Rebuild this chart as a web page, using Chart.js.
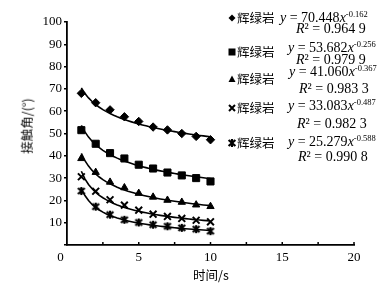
<!DOCTYPE html>
<html>
<head>
<meta charset="utf-8">
<script src="https://cdn.jsdelivr.net/npm/chart.js@4.4.1/dist/chart.umd.min.js"></script>
<style>
  body { margin: 0; background: #fff; }
  #wrap { position: relative; width: 390px; height: 287px; }
  .t { position: absolute; white-space: nowrap; color: #000; line-height: 1; }
  .cn { font-family: "Noto Sans CJK SC"; font-size: 12.5px; }
  .eq { font-family: "Liberation Serif"; font-size: 14px; }
  .eq i { font-style: italic; }
  .eq sup { font-size: 8.5px; vertical-align: 5px; line-height: 0; }
  .mk { position: absolute; }
</style>
</head>
<body>
<div id="wrap">
  <canvas id="myChart" width="390" height="287"></canvas>
  <div class="t cn" style="left:27px;top:126px;transform:translate(-50%,-50%) rotate(-90deg);">接触角/(°)</div>
  <div class="t cn" style="left:211px;top:275px;transform:translate(-50%,-50%);">时间/s</div>
  <div id="legend"></div>
</div>
<script>
// time (s)
var timeS = [1, 2, 3, 4, 5, 6, 7, 8, 9, 10];
// measured contact angles, five diabase samples
var diamondAngle = [68.0, 63.8, 60.6, 57.5, 55.4, 52.9, 51.6, 50.0, 48.7, 47.2];
var squareAngle = [51.5, 45.4, 41.2, 38.8, 36.0, 34.3, 32.5, 31.2, 30.0, 28.5];
var triangleAngle = [38.8, 32.6, 28.2, 25.7, 23.2, 21.5, 20.1, 19.2, 18.0, 17.3];
var crossAngle = [30.6, 24.1, 20.3, 17.9, 15.6, 13.8, 12.8, 11.9, 11.1, 10.4];
var starAngle = [24.2, 17.2, 13.6, 11.3, 10.1, 9.1, 8.4, 7.7, 7.1, 6.2];
// power fits y = a x^b shown on the chart
var fitA = [70.448, 53.682, 41.060, 33.083, 25.279];
var fitB = [-0.162, -0.256, -0.367, -0.487, -0.588];
var fitR2 = ['0.964 9', '0.979 9', '0.983 3', '0.982 3', '0.990 8'];
var seriesName = ['辉绿岩', '辉绿岩', '辉绿岩', '辉绿岩', '辉绿岩'];
var xTicks = [0, 5, 10, 15, 20];

// star marker (x with a vertical bar)
function starMarker(size) {
  var c = document.createElement('canvas');
  c.width = size; c.height = size;
  var g = c.getContext('2d');
  var m = size / 2, r = size / 2 - 1;
  g.strokeStyle = '#000';
  g.lineWidth = 2.2;
  g.beginPath();
  g.moveTo(m - r * 0.85, m - r * 0.75); g.lineTo(m + r * 0.85, m + r * 0.75);
  g.moveTo(m + r * 0.85, m - r * 0.75); g.lineTo(m - r * 0.85, m + r * 0.75);
  g.moveTo(m, m - r); g.lineTo(m, m + r);
  g.stroke();
  return c;
}

var allAngles = [diamondAngle, squareAngle, triangleAngle, crossAngle, starAngle];
var styles = ['rectRot', 'rect', 'triangle', 'crossRot', starMarker(10)];
var radii = [4.2, 5, 4.2, 4.8, 5];

function points(vals) {
  return timeS.map(function (t, i) { return { x: t, y: vals[i] }; });
}
function fitCurve(a, b) {
  var pts = [];
  for (var t = 1; t <= 10.001; t += 0.25) pts.push({ x: t, y: a * Math.pow(t, b) });
  return pts;
}

var datasets = [];
for (var k = 0; k < 5; k++) {
  datasets.push({
    type: 'line',
    data: fitCurve(fitA[k], fitB[k]),
    borderColor: '#000',
    borderWidth: 1.6,
    pointRadius: 0,
    fill: false,
    tension: 0
  });
  datasets.push({
    type: 'scatter',
    data: points(allAngles[k]),
    pointStyle: styles[k],
    pointRadius: radii[k],
    pointBackgroundColor: '#000',
    pointBorderColor: '#000',
    pointBorderWidth: k >= 3 ? 2 : 1
  });
}

// small inward tick marks on the x axis
var innerTicks = {
  id: 'innerTicks',
  afterDraw: function (chart) {
    var xs = chart.scales.x, c = chart.ctx, bottom = chart.chartArea.bottom;
    c.save();
    c.strokeStyle = '#000';
    c.lineWidth = 1.5;
    for (var v = 2.5; v <= 20; v += 2.5) {
      var px = xs.getPixelForValue(v);
      c.beginPath();
      c.moveTo(px, bottom);
      c.lineTo(px, bottom - 3);
      c.stroke();
    }
    c.restore();
  }
};

var ctx = document.getElementById('myChart').getContext('2d');
var chart = new Chart(ctx, {
  type: 'scatter',
  data: { datasets: datasets },
  options: {
    responsive: false,
    animation: false,
    layout: { padding: { top: 22, right: 36, bottom: 0, left: 0 } },
    plugins: { legend: { display: false }, tooltip: { enabled: false } },
    scales: {
      x: {
        type: 'linear', min: 0, max: 20,
        afterFit: function (s) { s.height = 42; },
        afterBuildTicks: function (s) { s.ticks = xTicks.map(function (v) { return { value: v }; }); },
        ticks: {
          color: '#000', padding: 5,
          font: { family: 'Liberation Serif', size: 13 },
          callback: function (v) { return v === 0 ? '0    ' : String(v); }
        },
        grid: { drawOnChartArea: false, drawTicks: false },
        border: { display: true, color: '#000', width: 1.8 }
      },
      y: {
        min: 0, max: 100,
        afterFit: function (s) { s.width = 67; },
        ticks: {
          stepSize: 10, color: '#000', padding: 2,
          font: { family: 'Liberation Serif', size: 13 },
          callback: function (v) { return v === 0 ? '' : String(v); }
        },
        grid: { drawOnChartArea: false, tickLength: 3, color: '#000', lineWidth: 1.5 },
        border: { display: true, color: '#000', width: 1.8 }
      }
    }
  },
  plugins: [innerTicks]
});

// legend: marker + name + equation, then R² line
var legendRows = [
  { mk: 18, eqX: 280, eqY: 18, r2X: 296, r2Y: 29 },
  { mk: 52, eqX: 288, eqY: 48, r2X: 296, r2Y: 60 },
  { mk: 79, eqX: 289, eqY: 72, r2X: 299, r2Y: 89 },
  { mk: 108, eqX: 288, eqY: 106, r2X: 297, r2Y: 124 },
  { mk: 143, eqX: 288, eqY: 142, r2X: 298, r2Y: 157 }
];
var lg = document.getElementById('legend');
legendRows.forEach(function (row, k) {
  var m = document.createElement('canvas');
  m.width = 10; m.height = 10;
  m.className = 'mk';
  m.style.left = '227px';
  m.style.top = (row.mk - 5) + 'px';
  var g = m.getContext('2d');
  g.fillStyle = '#000'; g.strokeStyle = '#000'; g.lineWidth = 2;
  g.beginPath();
  if (k === 0) { g.moveTo(5, 1.5); g.lineTo(8.5, 5); g.lineTo(5, 8.5); g.lineTo(1.5, 5); g.closePath(); g.fill(); }
  if (k === 1) { g.fillRect(1.5, 1.5, 7, 7); }
  if (k === 2) { g.moveTo(5, 1.5); g.lineTo(8.5, 8); g.lineTo(1.5, 8); g.closePath(); g.fill(); }
  if (k === 3) { g.moveTo(2, 2); g.lineTo(8, 8); g.moveTo(8, 2); g.lineTo(2, 8); g.stroke(); }
  if (k === 4) { g.drawImage(starMarker(10), 0, 0); }
  lg.appendChild(m);

  var nm = document.createElement('div');
  nm.className = 't cn';
  nm.style.left = '237px';
  nm.style.top = (row.mk - 6) + 'px';
  nm.textContent = seriesName[k];
  lg.appendChild(nm);

  var eq = document.createElement('div');
  eq.className = 't eq';
  eq.style.left = row.eqX + 'px';
  eq.style.top = (row.eqY - 7) + 'px';
  eq.innerHTML = '<i>y</i> = ' + fitA[k].toFixed(3) + '<i>x</i><sup>' + fitB[k].toFixed(3) + '</sup>';
  lg.appendChild(eq);

  var r2 = document.createElement('div');
  r2.className = 't eq';
  r2.style.left = row.r2X + 'px';
  r2.style.top = (row.r2Y - 7) + 'px';
  r2.innerHTML = '<i>R</i>² = ' + fitR2[k];
  lg.appendChild(r2);
});
</script>
</body>
</html>
